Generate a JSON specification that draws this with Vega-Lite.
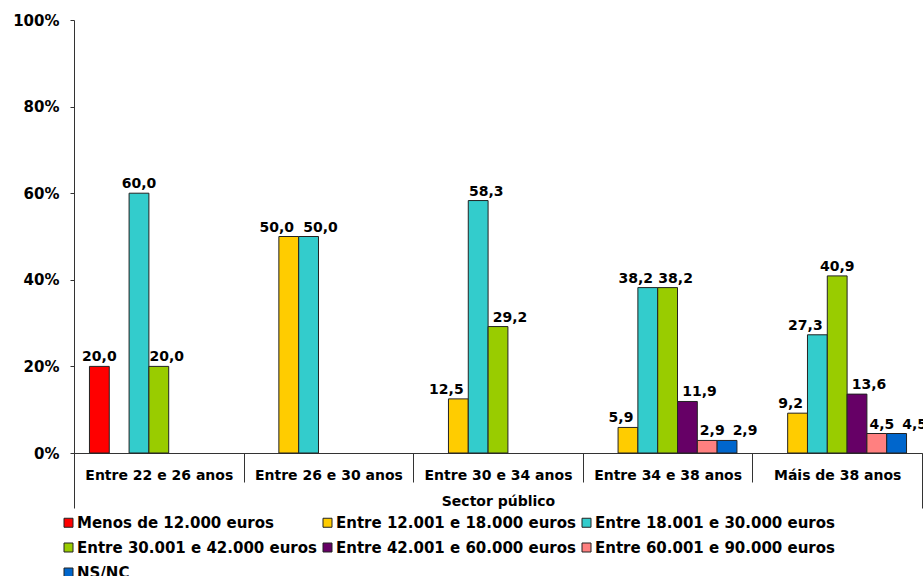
{
  "$schema": "https://vega.github.io/schema/vega-lite/v6.json",
  "width": 848,
  "height": 433,
  "autosize": {"type": "none"},
  "padding": {"left": 74, "top": 20, "right": 1, "bottom": 123},
  "config": {
    "view": {"stroke": null},
    "font": "DejaVu Sans",
    "locale": {"number": {"decimal": ",", "thousands": ".", "grouping": [3], "currency": ["", " €"]}},
    "axis": {"labelFont": "DejaVu Sans", "labelFontWeight": "bold", "labelFontSize": 14, "labelColor": "#000", "domainColor": "#333", "tickColor": "#333", "grid": false},
    "text": {"baseline": "alphabetic", "fontWeight": "bold", "fontSize": 14, "color": "#000"}
  },
  "layer": [
    {
      "data": {"values": [
        {"idade": "Entre 22 e 26 anos", "salario": "Menos de 12.000 euros", "pct": 20.0},
        {"idade": "Entre 22 e 26 anos", "salario": "Entre 18.001 e 30.000 euros", "pct": 60.0},
        {"idade": "Entre 22 e 26 anos", "salario": "Entre 30.001 e 42.000 euros", "pct": 20.0},
        {"idade": "Entre 26 e 30 anos", "salario": "Entre 12.001 e 18.000 euros", "pct": 50.0},
        {"idade": "Entre 26 e 30 anos", "salario": "Entre 18.001 e 30.000 euros", "pct": 50.0},
        {"idade": "Entre 30 e 34 anos", "salario": "Entre 12.001 e 18.000 euros", "pct": 12.5},
        {"idade": "Entre 30 e 34 anos", "salario": "Entre 18.001 e 30.000 euros", "pct": 58.3},
        {"idade": "Entre 30 e 34 anos", "salario": "Entre 30.001 e 42.000 euros", "pct": 29.2},
        {"idade": "Entre 34 e 38 anos", "salario": "Entre 12.001 e 18.000 euros", "pct": 5.9},
        {"idade": "Entre 34 e 38 anos", "salario": "Entre 18.001 e 30.000 euros", "pct": 38.2},
        {"idade": "Entre 34 e 38 anos", "salario": "Entre 30.001 e 42.000 euros", "pct": 38.2},
        {"idade": "Entre 34 e 38 anos", "salario": "Entre 42.001 e 60.000 euros", "pct": 11.9},
        {"idade": "Entre 34 e 38 anos", "salario": "Entre 60.001 e 90.000 euros", "pct": 2.9},
        {"idade": "Entre 34 e 38 anos", "salario": "NS/NC", "pct": 2.9},
        {"idade": "Máis de 38 anos", "salario": "Entre 12.001 e 18.000 euros", "pct": 9.2},
        {"idade": "Máis de 38 anos", "salario": "Entre 18.001 e 30.000 euros", "pct": 27.3},
        {"idade": "Máis de 38 anos", "salario": "Entre 30.001 e 42.000 euros", "pct": 40.9},
        {"idade": "Máis de 38 anos", "salario": "Entre 42.001 e 60.000 euros", "pct": 13.6},
        {"idade": "Máis de 38 anos", "salario": "Entre 60.001 e 90.000 euros", "pct": 4.5},
        {"idade": "Máis de 38 anos", "salario": "NS/NC", "pct": 4.5}
      ]},
      "encoding": {
        "x": {
          "field": "idade", "type": "nominal",
          "sort": ["Entre 22 e 26 anos", "Entre 26 e 30 anos", "Entre 30 e 34 anos", "Entre 34 e 38 anos", "Máis de 38 anos"],
          "scale": {"paddingInner": 0, "paddingOuter": 0},
          "axis": {"orient": "bottom", "title": null, "labelAngle": 0, "tickBand": "extent", "tickSize": 29, "labelPadding": -3, "labelBaseline": "alphabetic"}
        },
        "xOffset": {
          "field": "salario", "type": "nominal",
          "scale": {
            "domain": ["Menos de 12.000 euros", "Entre 12.001 e 18.000 euros", "Entre 18.001 e 30.000 euros", "Entre 30.001 e 42.000 euros", "Entre 42.001 e 60.000 euros", "Entre 60.001 e 90.000 euros", "NS/NC"],
            "paddingInner": 0, "paddingOuter": 0.78
          }
        },
        "y": {
          "field": "pct", "type": "quantitative",
          "scale": {"domain": [0, 100], "nice": false},
          "axis": {"title": null, "values": [0, 20, 40, 60, 80, 100], "labelExpr": "datum.value + '%'", "tickSize": 4, "labelPadding": 11, "labelFontSize": 15}
        },
        "text": {"field": "pct", "type": "quantitative", "format": ".1f"}
      },
      "layer": [
        {
          "mark": {"type": "bar", "stroke": "#222", "strokeWidth": 1},
          "encoding": {
            "text": null,
            "color": {
              "field": "salario", "type": "nominal",
              "scale": {
                "domain": ["Menos de 12.000 euros", "Entre 12.001 e 18.000 euros", "Entre 18.001 e 30.000 euros", "Entre 30.001 e 42.000 euros", "Entre 42.001 e 60.000 euros", "Entre 60.001 e 90.000 euros", "NS/NC"],
                "range": ["#FF0000", "#FFCC00", "#33CCCC", "#99CC00", "#660066", "#FF8080", "#0066CC"]
              },
              "legend": {
                "title": null, "orient": "none", "legendX": -13, "legendY": 495, "columns": 3, "direction": "horizontal",
                "padding": 0, "symbolType": "square", "symbolSize": 81, "symbolStrokeColor": "#222", "symbolStrokeWidth": 1,
                "labelFont": "DejaVu Sans", "labelFontSize": 15, "labelFontWeight": "bold", "labelColor": "#000",
                "labelOffset": 1, "labelLimit": 400, "rowPadding": 9, "columnPadding": 3
              }
            }
          }
        },
        {
          "transform": [{"filter": "datum.salario == 'Menos de 12.000 euros' || (datum.salario == 'Entre 18.001 e 30.000 euros' && datum.idade == 'Entre 22 e 26 anos') || (datum.salario == 'Entre 30.001 e 42.000 euros' && datum.idade == 'Máis de 38 anos')"}],
          "mark": {"type": "text", "dy": -5}
        },
        {
          "transform": [{"filter": "(datum.salario == 'Entre 12.001 e 18.000 euros' && (datum.idade == 'Entre 26 e 30 anos' || datum.idade == 'Entre 30 e 34 anos')) || (datum.salario == 'Entre 18.001 e 30.000 euros' && (datum.idade == 'Entre 34 e 38 anos' || datum.idade == 'Máis de 38 anos'))"}],
          "mark": {"type": "text", "dy": -5, "dx": -12}
        },
        {
          "transform": [{"filter": "datum.salario == 'Entre 12.001 e 18.000 euros' && (datum.idade == 'Entre 34 e 38 anos' || datum.idade == 'Máis de 38 anos')"}],
          "mark": {"type": "text", "dy": -5, "dx": -7}
        },
        {
          "transform": [{"filter": "(datum.salario == 'Entre 30.001 e 42.000 euros' && (datum.idade == 'Entre 22 e 26 anos' || datum.idade == 'Entre 34 e 38 anos')) || (datum.salario == 'Entre 18.001 e 30.000 euros' && datum.idade == 'Entre 30 e 34 anos')"}],
          "mark": {"type": "text", "dy": -5, "dx": 8}
        },
        {
          "transform": [{"filter": "(datum.salario == 'Entre 18.001 e 30.000 euros' && datum.idade == 'Entre 26 e 30 anos') || (datum.salario == 'Entre 30.001 e 42.000 euros' && datum.idade == 'Entre 30 e 34 anos') || datum.salario == 'Entre 42.001 e 60.000 euros'"}],
          "mark": {"type": "text", "dy": -5, "dx": 12}
        },
        {
          "transform": [{"filter": "datum.salario == 'Entre 60.001 e 90.000 euros'"}],
          "mark": {"type": "text", "dy": -5, "dx": 5}
        },
        {
          "transform": [{"filter": "datum.salario == 'NS/NC'"}],
          "mark": {"type": "text", "dy": -5, "dx": 18}
        }
      ]
    },
    {
      "data": {"values": [{"sector": "Sector público"}]},
      "mark": {"type": "point", "opacity": 0},
      "encoding": {
        "x": {
          "field": "sector", "type": "nominal",
          "scale": {"paddingInner": 0, "paddingOuter": 0},
          "axis": {"orient": "bottom", "title": null, "labelAngle": 0, "tickBand": "extent", "tickSize": 55, "labelPadding": -3, "labelBaseline": "alphabetic", "domain": false}
        }
      }
    }
  ],
  "resolve": {"scale": {"x": "independent"}, "axis": {"x": "independent"}}
}
